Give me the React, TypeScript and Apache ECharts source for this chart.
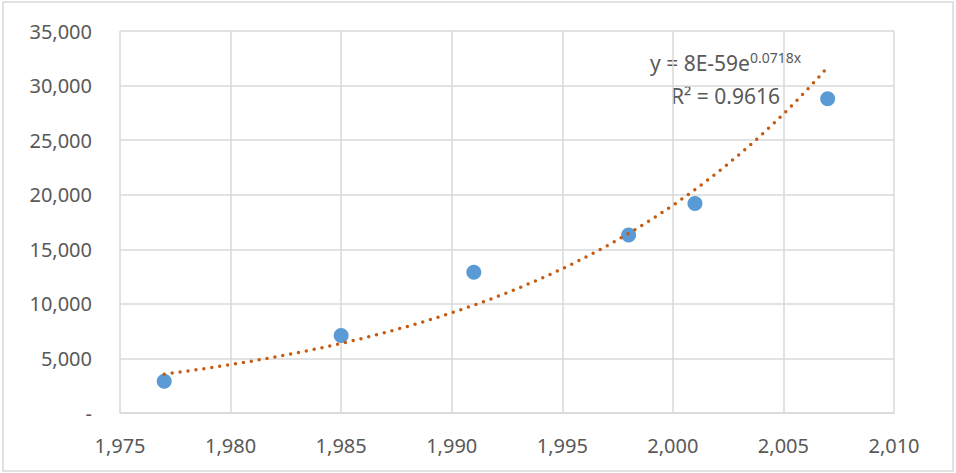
import React, { useEffect, useRef } from "react";
import * as echarts from "echarts";

const years = [1977, 1985, 1991, 1998, 2001, 2007];
const values = [2900, 7100, 12900, 16300, 19200, 28800];
const xTicks = [1975, 1980, 1985, 1990, 1995, 2000, 2005, 2010];
const yTicks = [0, 5000, 10000, 15000, 20000, 25000, 30000, 35000];
const equationText = "y = 8E-59e";
const equationExp = "0.0718x";
const r2Text = "R² = 0.9616";

// exponential trendline from least squares on ln(y)
function expFit(xs: number[], ys: number[]) {
  const n = xs.length;
  const ly = ys.map((v) => Math.log(v));
  const mx = xs.reduce((a, b) => a + b, 0) / n;
  const my = ly.reduce((a, b) => a + b, 0) / n;
  let sxy = 0, sxx = 0;
  for (let i = 0; i < n; i++) {
    sxy += (xs[i] - mx) * (ly[i] - my);
    sxx += (xs[i] - mx) * (xs[i] - mx);
  }
  const b = sxy / sxx;
  const a = my - b * mx;
  return (x: number) => Math.exp(a + b * x);
}

const fmt = (v: number) => (v === 0 ? "-" : v.toLocaleString("en-US"));

export default function App() {
  const ref = useRef<HTMLDivElement>(null);
  useEffect(() => {
    if (!ref.current) return;
    const chart = echarts.init(ref.current, undefined, { renderer: "svg" });
    const f = expFit(years, values);
    const trend: number[][] = [];
    for (let x = years[0]; x <= years[years.length - 1]; x += 0.5) trend.push([x, f(x)]);
    const font = "'Noto Sans', sans-serif";
    chart.setOption({
      animation: false,
      backgroundColor: "#fff",
      grid: { left: 120, right: 62, top: 31, bottom: 60 },
      xAxis: {
        type: "value",
        min: xTicks[0],
        max: xTicks[xTicks.length - 1],
        interval: 5,
        axisLine: { show: true, lineStyle: { color: "#D9D9D9", width: 1.5 } },
        axisTick: { show: false },
        splitLine: { show: true, lineStyle: { color: "#D9D9D9", width: 1.5 } },
        axisLabel: { color: "#595959", fontSize: 20, fontFamily: font, margin: 22, formatter: fmt },
      },
      yAxis: {
        type: "value",
        min: yTicks[0],
        max: yTicks[yTicks.length - 1],
        interval: 5000,
        axisLine: { show: false },
        axisTick: { show: false },
        splitLine: { show: true, lineStyle: { color: "#D9D9D9", width: 1.5 } },
        axisLabel: { color: "#595959", fontSize: 20, fontFamily: font, margin: 28, formatter: fmt },
      },
      series: [
        {
          type: "line",
          data: trend,
          showSymbol: false,
          symbol: "none",
          smooth: false,
          lineStyle: { color: "#C55A11", width: 3.5, type: [0, 8], cap: "round" },
          z: 3,
        },
        {
          type: "scatter",
          data: years.map((y, i) => [y, values[i]]),
          symbol: "circle",
          symbolSize: 15,
          itemStyle: { color: "#5B9BD5", opacity: 1 },
          z: 2,
        },
      ],
      graphic: [
        {
          type: "rect",
          shape: { x: 3, y: 2, width: 950, height: 469 },
          style: { fill: "none", stroke: "#D9D9D9", lineWidth: 1.5 },
          silent: true,
        },
        {
          type: "text",
          x: 650,
          y: 76,
          style: {
            text: `{a|${equationText}}{s|${equationExp}}`,
            textVerticalAlign: "bottom",
            rich: {
              a: { fontSize: 21, fontFamily: font, fill: "#595959" },
              s: { fontSize: 14, fontFamily: font, fill: "#595959", verticalAlign: "top", padding: [0, 0, 12, 0] },
            },
          },
        },
        {
          type: "text",
          x: 671,
          y: 106,
          style: {
            text: r2Text,
            fontSize: 21,
            fontFamily: font,
            fill: "#595959",
            textVerticalAlign: "bottom",
          },
        },
      ],
    });
    return () => chart.dispose();
  }, []);
  return <div ref={ref} style={{ position: "fixed", left: 0, top: 0, width: 956, height: 473 }} />;
}
